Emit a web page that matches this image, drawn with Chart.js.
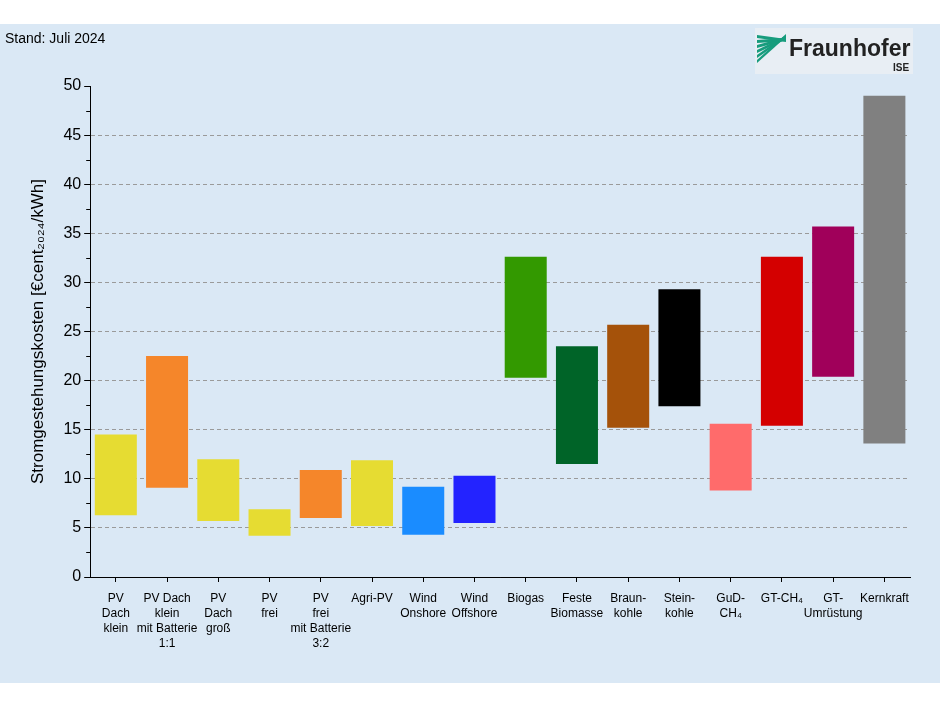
<!DOCTYPE html>
<html><head><meta charset="utf-8">
<script src="https://cdn.jsdelivr.net/npm/chart.js@4"></script>
<style>body{margin:0;background:#fff}#w{position:relative;width:940px;height:705px}</style>
</head><body><div id="w"><canvas id="c" width="940" height="705"></canvas></div>
<script>
const categories = [["PV","Dach","klein"],["PV Dach","klein","mit Batterie","1:1"],["PV","Dach","groß"],["PV","frei"],["PV","frei","mit Batterie","3:2"],["Agri-PV"],["Wind","Onshore"],["Wind","Offshore"],["Biogas"],["Feste","Biomasse"],["Braun-","kohle"],["Stein-","kohle"],["GuD-","CH₄"],["GT-CH₄"],["GT-","Umrüstung"],["Kernkraft"]];
const lowValues  = [6.3, 9.1, 5.7, 4.2, 6.0, 5.2, 4.3, 5.5, 20.3, 11.5, 15.2, 17.4, 8.8, 15.4, 20.4, 13.6];
const highValues = [14.5, 22.5, 12.0, 6.9, 10.9, 11.9, 9.2, 10.3, 32.6, 23.5, 25.7, 29.3, 15.6, 32.6, 35.7, 49.0];
const barColors = ["#e6dc32","#f5862a","#e6dc32","#e6dc32","#f5862a","#e6dc32","#1a8cff","#2323ff","#339900","#006428","#a5520a","#000000","#ff6b6b","#d40000","#a0005a","#808080"];
const yTicks = [0,5,10,15,20,25,30,35,40,45,50];

const bg = {id:'bg',beforeDraw(ch){const c=ch.ctx;c.save();c.fillStyle='#fff';c.fillRect(0,0,940,705);c.fillStyle='#dae8f5';c.fillRect(0,24,940,659);
c.fillStyle='#000';c.font='14px "Liberation Sans", Arial';c.textBaseline='alphabetic';c.fillText('Stand: Juli 2024',5,43);
c.fillStyle='#e8eef4';c.fillRect(755,28,158,46);
c.fillStyle='#179c7d';
for(let i=0;i<6;i++){c.beginPath();c.moveTo(757,60-i*5);c.lineTo(786,34+i*1);c.lineTo(786,37+i*1);c.lineTo(757,63-i*5);c.fill();}
c.fillStyle='#222';c.font='bold 23px "Liberation Sans", Arial';c.fillText('Fraunhofer',789,56);
c.font='bold 10px "Liberation Sans", Arial';c.fillText('ISE',893,71);
c.restore();},
afterDraw(ch){const c=ch.ctx,a=ch.chartArea,y=ch.scales.y;c.save();c.strokeStyle='#000';c.lineWidth=1;c.setLineDash([]);
for(let v=2.5;v<50;v+=5){const p=Math.round(y.getPixelForValue(v))+0.5;c.beginPath();c.moveTo(a.left-4,p);c.lineTo(a.left,p);c.stroke();}
const l=Math.round(a.left)+0.5,b=Math.round(a.bottom)+0.5;
c.beginPath();c.moveTo(l,a.top);c.lineTo(l,b);c.lineTo(a.right,b);c.stroke();
c.restore();}};

new Chart(document.getElementById('c'),{type:'bar',
data:{labels:categories,datasets:[{data:lowValues.map((l,i)=>[l,highValues[i]]),backgroundColor:barColors,barPercentage:0.82,categoryPercentage:1}]},
options:{responsive:false,animation:false,layout:{padding:{left:24,right:30,top:86,bottom:45}},
plugins:{legend:{display:false},tooltip:{enabled:false}},
scales:{x:{grid:{display:true,drawOnChartArea:false,tickColor:'#000',tickLength:5,offset:false},border:{color:'#000'},
ticks:{color:'#000',maxRotation:0,autoSkip:false,padding:9,font:{size:12,family:'"Liberation Sans", Arial',lineHeight:1.25}}},
y:{min:0,max:50,afterBuildTicks(s){s.ticks=yTicks.map(v=>({value:v}));},
grid:{color:(c)=>c.tick&&c.tick.value===50?'rgba(0,0,0,0)':'#9a9a9a',tickColor:'#000',tickLength:6},border:{color:'#000',dash:[4,3]},
ticks:{color:'#000',font:{size:16,family:'"Liberation Sans", Arial'}},
title:{display:true,text:'Stromgestehungskosten [€cent₂₀₂₄/kWh]',color:'#000',font:{size:17,family:'"Liberation Sans", Arial'},padding:{top:4,bottom:12}}}}},
plugins:[bg]});
</script></body></html>
